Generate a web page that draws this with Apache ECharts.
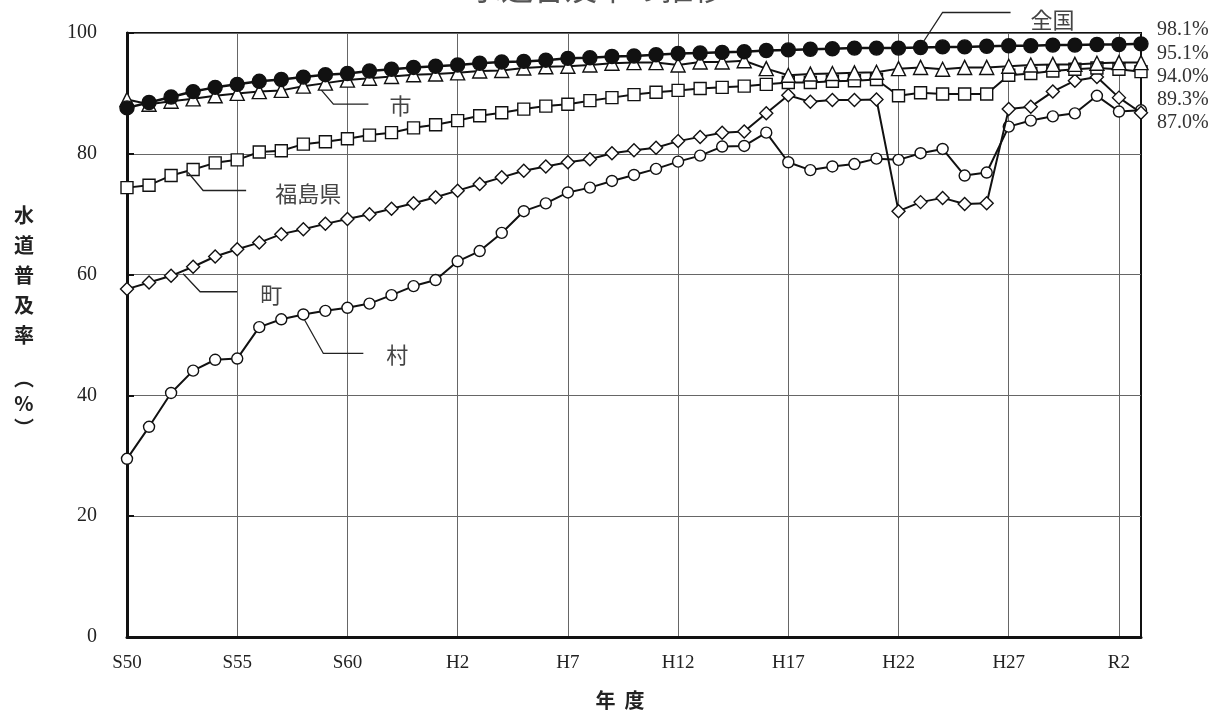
<!DOCTYPE html>
<html><head><meta charset="utf-8">
<script src="https://cdn.jsdelivr.net/npm/echarts@6/dist/echarts.min.js"></script>
<style>html,body{margin:0;padding:0;background:#fff}#c{width:1222px;height:720px}</style>
</head><body><div id="c"></div>
<script>
// ---- data ----
const years = ['S50','S51','S52','S53','S54','S55','S56','S57','S58','S59','S60','S61','S62','S63',
  'H1','H2','H3','H4','H5','H6','H7','H8','H9','H10','H11','H12','H13','H14','H15','H16','H17','H18','H19','H20',
  'H21','H22','H23','H24','H25','H26','H27','H28','H29','H30','R1','R2','R3'];
const zenkoku = [87.6,88.5,89.4,90.3,91.0,91.5,92.0,92.3,92.7,93.1,93.3,93.7,94.0,94.3,94.5,94.7,95.0,95.2,95.3,95.5,
  95.8,95.9,96.1,96.2,96.4,96.6,96.7,96.8,96.9,97.1,97.2,97.3,97.4,97.5,97.5,97.5,97.6,97.7,97.7,97.8,
  97.9,97.9,98.0,98.0,98.1,98.1,98.2];
const shi = [89.0,88.2,88.7,89.1,89.6,90.0,90.3,90.5,91.2,91.7,92.2,92.5,92.8,93.1,93.2,93.4,93.7,93.8,94.2,94.4,
  94.5,94.7,95.0,95.1,95.1,94.7,95.2,95.2,95.4,94.1,93.0,93.2,93.3,93.4,93.5,94.1,94.3,94.0,94.3,94.3,
  94.5,94.7,94.8,94.8,95.0,95.1,95.1];
const fukushima = [74.4,74.8,76.4,77.4,78.5,79.0,80.3,80.5,81.6,82.0,82.5,83.1,83.5,84.3,84.8,85.5,86.3,86.8,87.4,87.9,
  88.2,88.8,89.3,89.8,90.2,90.5,90.8,91.0,91.2,91.5,91.8,91.8,92.0,92.1,92.3,89.6,90.1,89.9,89.9,89.9,
  93.0,93.3,93.7,94.0,94.2,94.0,93.6];
const machi = [57.6,58.7,59.8,61.3,63.0,64.2,65.3,66.7,67.5,68.4,69.2,70.0,70.9,71.8,72.8,73.9,75.0,76.1,77.2,77.9,
  78.6,79.1,80.1,80.6,81.0,82.1,82.8,83.5,83.7,86.7,89.7,88.6,88.9,88.9,89.0,70.5,72.0,72.7,71.7,71.8,
  87.4,87.8,90.3,92.1,92.7,89.3,86.8];
const mura = [29.5,34.8,40.4,44.1,45.9,46.1,51.3,52.6,53.4,54.0,54.5,55.2,56.6,58.1,59.1,62.2,63.9,66.9,70.5,71.8,
  73.6,74.4,75.5,76.5,77.5,78.7,79.7,81.2,81.3,83.5,78.6,77.3,77.9,78.3,79.2,79.0,80.1,80.8,76.4,76.9,
  84.5,85.5,86.2,86.7,89.6,87.0,87.2];
const seriesNames = ['村','町','福島県','市','全国'];
const endLabels = ['98.1%','95.1%','94.0%','89.3%','87.0%'];
const titleText = '水道普及率の推移';
const yAxisName = '水道普及率';
const xAxisName = '年  度';

// ---- chart ----
const chart = echarts.init(document.getElementById('c'), null, {renderer:'canvas'});
const serif = '"Liberation Serif", "DejaVu Serif", serif';
const cjk = '"Noto Sans CJK JP", sans-serif';
function mk(name, data, symbol, size, fill, z, lw) {
  return {name, type:'line', data, symbol, symbolSize:size, showSymbol:true, z,
    lineStyle:{color:'#111', width:lw}, itemStyle:{color:fill, borderColor:'#111', borderWidth:1.4},
    emphasis:{disabled:true}, animation:false};
}
chart.setOption({
  animation:false,
  grid:{left:127, right:81, top:33, bottom:83, show:true, borderColor:'#111', borderWidth:2, containLabel:false},
  xAxis:{type:'category', data:years, boundaryGap:false,
    axisLine:{lineStyle:{color:'#111', width:3}}, axisTick:{show:false},
    axisLabel:{interval:(i)=>i%5===0, fontFamily:serif, fontSize:19, color:'#222', margin:17},
    splitLine:{show:true, interval:(i)=>i%5===0, lineStyle:{color:'#666', width:1}}},
  yAxis:{type:'value', min:0, max:100, interval:20,
    axisLine:{show:true, lineStyle:{color:'#111', width:3}},
    axisTick:{show:true, inside:true, length:7, lineStyle:{color:'#111', width:2}},
    axisLabel:{fontFamily:serif, fontSize:20, color:'#222', margin:30},
    splitLine:{show:true, lineStyle:{color:'#666', width:1}}},
  series:[
    mk(seriesNames[0], mura, 'circle', 11, '#fff', 2, 2),
    mk(seriesNames[1], machi, 'diamond', 13, '#fff', 3, 2),
    mk(seriesNames[2], fukushima, 'rect', 12, '#fff', 4, 2),
    mk(seriesNames[3], shi, 'triangle', 14, '#fff', 5, 2),
    mk(seriesNames[4], zenkoku, 'circle', 14, '#111', 6, 2.5)
  ]
});

// ---- annotations (leaders anchored to data points) ----
const dataBy = [mura, machi, fukushima, shi, zenkoku];
const leaders = [
  {s:4, i:36, pts:[[3,-6],[22,-35],[90,-35]], t:[110,-28], align:'left', text:seriesNames[4]},
  {s:3, i:9,  pts:[[-4,7],[8,21],[43,21]],   t:[75,23],  align:'center', text:seriesNames[3]},
  {s:2, i:3,  pts:[[-5,3],[10,21],[53,21]],  t:[115,24], align:'center', text:seriesNames[2]},
  {s:1, i:3,  pts:[[-10,7],[7,25],[44,25]],  t:[78,28],  align:'center', text:seriesNames[1]},
  {s:0, i:8,  pts:[[1,5],[20,39],[60,39]],   t:[94,40],  align:'center', text:seriesNames[0]}
];
const g = [];
leaders.forEach(L => {
  const p = chart.convertToPixel({seriesIndex:L.s}, [L.i, dataBy[L.s][L.i]]);
  g.push({type:'polyline', silent:true, z:10,
    shape:{points:L.pts.map(o=>[p[0]+o[0], p[1]+o[1]])},
    style:{stroke:'#222', lineWidth:1.3, fill:null}});
  g.push({type:'text', silent:true, z:10, x:p[0]+L.t[0], y:p[1]+L.t[1],
    style:{text:L.text, font:'22px '+cjk, fill:'#444', align:L.align, verticalAlign:'middle'}});
});
endLabels.forEach((t, k) => {
  g.push({type:'text', silent:true, x:1157, y:30+k*23.3,
    style:{text:t, font:'20px '+serif, fill:'#333', align:'left', verticalAlign:'middle'}});
});
// y axis name (vertical)
g.push({type:'text', silent:true, x:24, y:200,
  style:{text:yAxisName.split('').join('\n'), font:'bold 20px '+cjk, fill:'#222', align:'center', verticalAlign:'top', lineHeight:30}});
g.push({type:'text', silent:true, x:24, y:366,
  style:{text:'︵\n%\n︶', font:'bold 20px '+cjk, fill:'#222', align:'center', verticalAlign:'top', lineHeight:25}});
g.push({type:'text', silent:true, x:620, y:700,
  style:{text:xAxisName, font:'bold 20px '+cjk, fill:'#222', align:'center', verticalAlign:'middle'}});
g.push({type:'text', silent:true, x:597, y:4,
  style:{text:titleText, font:'32px '+cjk, fill:'#555', align:'center', verticalAlign:'bottom'}});
chart.setOption({graphic:g});
</script></body></html>
